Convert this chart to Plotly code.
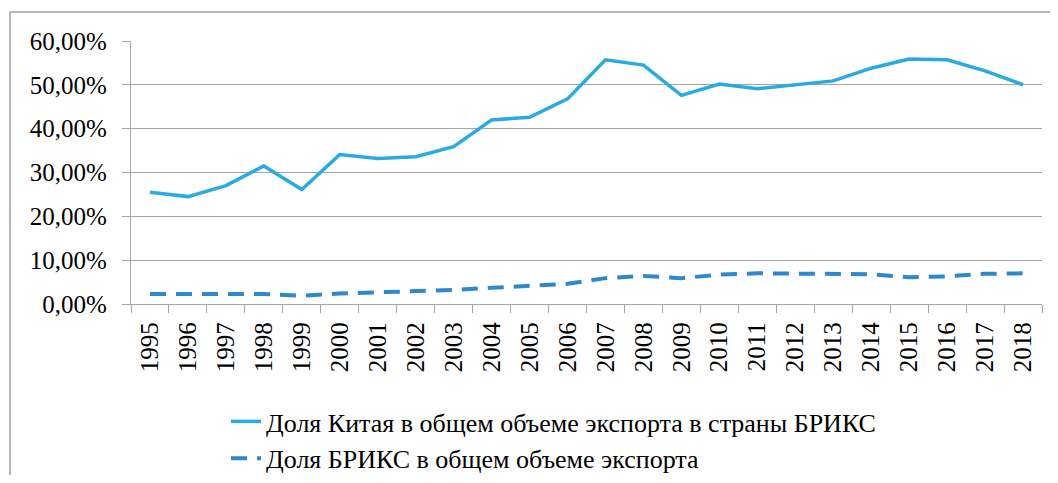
import plotly.graph_objects as go

years = [str(y) for y in range(1995, 2019)]
china_share = [25.5, 24.5, 27.0, 31.5, 26.1, 34.1, 33.2, 33.6, 35.9, 42.0, 42.6, 46.8,
               55.7, 54.5, 47.6, 50.2, 49.1, 49.9, 50.9, 53.8, 55.9, 55.7, 53.2, 50.0]
brics_share = [2.3, 2.2, 2.3, 2.3, 1.9, 2.4, 2.7, 2.8, 3.2, 3.7, 4.1, 4.6,
               5.9, 6.4, 5.9, 6.7, 7.0, 6.9, 6.9, 6.8, 6.1, 6.3, 6.9, 7.0]
series_names = ["Доля Китая в общем объеме экспорта в страны БРИКС",
                "Доля БРИКС в общем объеме экспорта"]
y_ticks = [0, 10, 20, 30, 40, 50, 60]
y_tick_labels = ["0,00%", "10,00%", "20,00%", "30,00%", "40,00%", "50,00%", "60,00%"]

FONT = "Liberation Serif"
GRID = "#A6A6A6"

fig = go.Figure()
fig.add_trace(go.Scatter(x=years, y=china_share, mode="lines", name=series_names[0],
                         line=dict(color="#29ABE2", width=3.5)))
fig.add_trace(go.Scatter(x=years, y=brics_share, mode="lines", name=series_names[1],
                         line=dict(color="#2D88CC", width=4, dash="16px,10px")))

# page body has an 8px margin, so figure coordinates = screen coordinates - 8
W, H = 1042, 467
L, R, T, B = 123, 1034, 33, 296
fig.update_layout(
    width=W, height=H,
    margin=dict(l=L, r=W - R, t=T, b=H - B, autoexpand=False),
    paper_bgcolor="white", plot_bgcolor="white",
    font=dict(family=FONT, size=25, color="black"),
    showlegend=True,
    legend=dict(x=(218 - L) / (R - L), y=(B - 390) / (B - T), xanchor="left", yanchor="top",
                bgcolor="rgba(0,0,0,0)", font=dict(family=FONT, size=26)),
    xaxis=dict(type="category", range=[-0.5, len(years) - 0.5], tickangle=-90,
               showgrid=False, showline=True,
               linecolor=GRID, linewidth=1.3, ticks="outside", tickson="boundaries",
               ticklen=8, tickcolor=GRID, tickwidth=1.3, tickfont=dict(family=FONT, size=25),
               ticklabelstandoff=7, automargin=False),
    yaxis=dict(range=[0, 60], tickvals=y_ticks, ticktext=y_tick_labels, showgrid=True,
               gridcolor=GRID, gridwidth=1.3, showline=True, linecolor=GRID, linewidth=1.3,
               ticks="outside", ticklen=8, tickcolor=GRID, tickwidth=1.3, zeroline=False,
               tickfont=dict(family=FONT, size=25), ticklabelstandoff=10, automargin=False),
    shapes=[
        dict(type="line", xref="paper", yref="paper",
             x0=(2 - L) / (R - L), x1=(W + 5 - L) / (R - L),
             y0=(B - 4) / (B - T), y1=(B - 4) / (B - T),
             line=dict(color="#A0A0A0", width=1.5)),
        dict(type="line", xref="paper", yref="paper",
             x0=(2 - L) / (R - L), x1=(2 - L) / (R - L),
             y0=(B - 4) / (B - T), y1=(B - H - 5) / (B - T),
             line=dict(color="#A0A0A0", width=1.5)),
    ],
)

fig.write_html("out.html")
